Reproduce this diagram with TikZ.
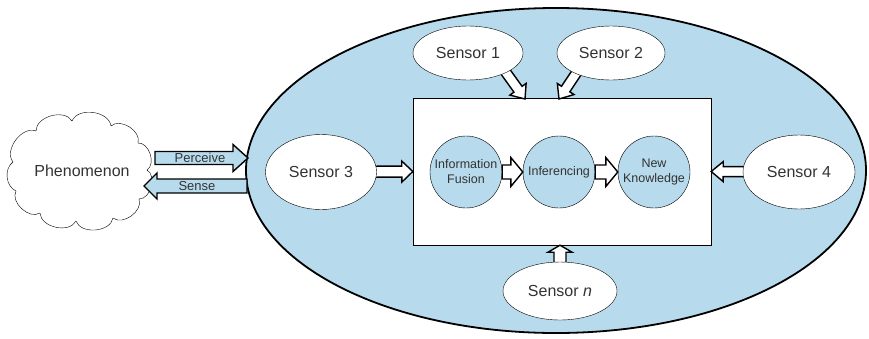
\documentclass[tikz,border=0pt]{standalone}
\usepackage{fontspec}
\setmainfont{Liberation Sans}
\usetikzlibrary{shapes.geometric,calc}
\definecolor{lb}{HTML}{B7DBED}
\definecolor{tx}{HTML}{333333}
\pgfdeclarelayer{bg}\pgfdeclarelayer{mid}\pgfsetlayers{bg,mid,main}
% block arrow: [fill]{tail}{tip}{shaft half width}{head half width}{head length}
\newcommand\barrow[6][white]{%
  \draw[fill=#1, line width=1.4pt, line join=miter]
    ($(#2)!#4!90:(#3)$) --
    ($(#3)!#6!(#2)!#4!90:(#3)$) --
    ($(#3)!#6!(#2)!#5!90:(#3)$) --
    (#3) --
    ($(#3)!#6!(#2)!#5!-90:(#3)$) --
    ($(#3)!#6!(#2)!#4!-90:(#3)$) --
    ($(#2)!#4!-90:(#3)$) -- cycle;}
\begin{document}
\begin{tikzpicture}[x=1pt,y=-1pt, line width=1.5pt,
  every node/.style={text=tx, font=\fontsize{16}{18}\selectfont},
  sensor/.style={ellipse, draw, fill=white, inner sep=0pt},
  proc/.style={circle, draw, fill=lb, minimum size=72pt, inner sep=0pt, align=center,
    font=\fontsize{12.5}{15}\selectfont},
  small/.style={font=\fontsize{13}{15}\selectfont},
  puff/.style={bend left=75}]
\useasboundingbox (0,0) rectangle (869,338);
\begin{pgfonlayer}{bg}
  \node[ellipse, draw, fill=lb, line width=1.8pt, minimum width=620pt, minimum height=325pt, inner sep=0pt] (world) at (556,170.5) {};
  \node[draw, fill=white, minimum width=298pt, minimum height=147pt, inner sep=0pt] (box) at (562,171.5) {};
\end{pgfonlayer}
% cloud
\draw[fill=white, line join=round] (13,162) to[puff] (36,131) to[puff] (72,121)
  to[puff] (111,126) to[puff] (138,143) to[puff] (147,170) to[puff] (139,199)
  to[puff] (113,218) to[puff] (76,221) to[puff] (40,213) to[puff] (16,191)
  to[bend left=60] cycle;
\node (ph) at (82,171) {Phenomenon};
% process circles
\node[proc] (c1) at (466,172) {Information\\Fusion};
\node[proc] (c2) at (559,172) {Inferencing};
\node[proc] (c3) at (654,172) {New\\Knowledge};
% sensors
\node[sensor, minimum width=110pt, minimum height=54pt] (s1) at (468,53) {Sensor 1};
\node[sensor, minimum width=108pt, minimum height=54pt] (s2) at (611,53) {Sensor 2};
\node[sensor, minimum width=111pt, minimum height=75pt] (s3) at (321,172) {Sensor 3};
\node[sensor, minimum width=112pt, minimum height=74pt] (s4) at (799,172) {Sensor 4};
\node[sensor, minimum width=114pt, minimum height=58pt] (sn) at (560,291) {Sensor \textit{n}};
% arrow end points
\coordinate (s1a) at (497,60);
\coordinate (s1b) at (525,99);
\coordinate (s2a) at (585,60);
\coordinate (s2b) at (559,99);
\coordinate (pa) at (155,158);
\coordinate (pb) at (248,158);
\coordinate (sa) at (247,186);
\coordinate (sb) at (144,186);
\begin{pgfonlayer}{mid}
  \barrow{s1a}{s1b}{5pt}{10pt}{12pt}
  \barrow{s2a}{s2b}{5pt}{10pt}{12pt}
  \barrow{s3.center}{box.west}{5.5pt}{10.5pt}{11pt}
  \barrow{s4.center}{box.east}{5pt}{10pt}{12pt}
  \barrow{sn.center}{sn|-box.south}{6pt}{12pt}{7pt}
\end{pgfonlayer}
\barrow{c1.east}{c2.west}{7pt}{14.5pt}{12pt}
\barrow{c2.east}{c3.west}{7pt}{14.5pt}{12pt}
\barrow[lb]{pa}{pb}{6.5pt}{13.5pt}{15pt}
\barrow[lb]{sa}{sb}{7pt}{13pt}{13pt}
\node[small, inner sep=0pt] (lp) at (200,157.5) {Perceive};
\node[small, inner sep=0pt] (ls) at (197,186) {Sense};
\end{tikzpicture}
\end{document}
